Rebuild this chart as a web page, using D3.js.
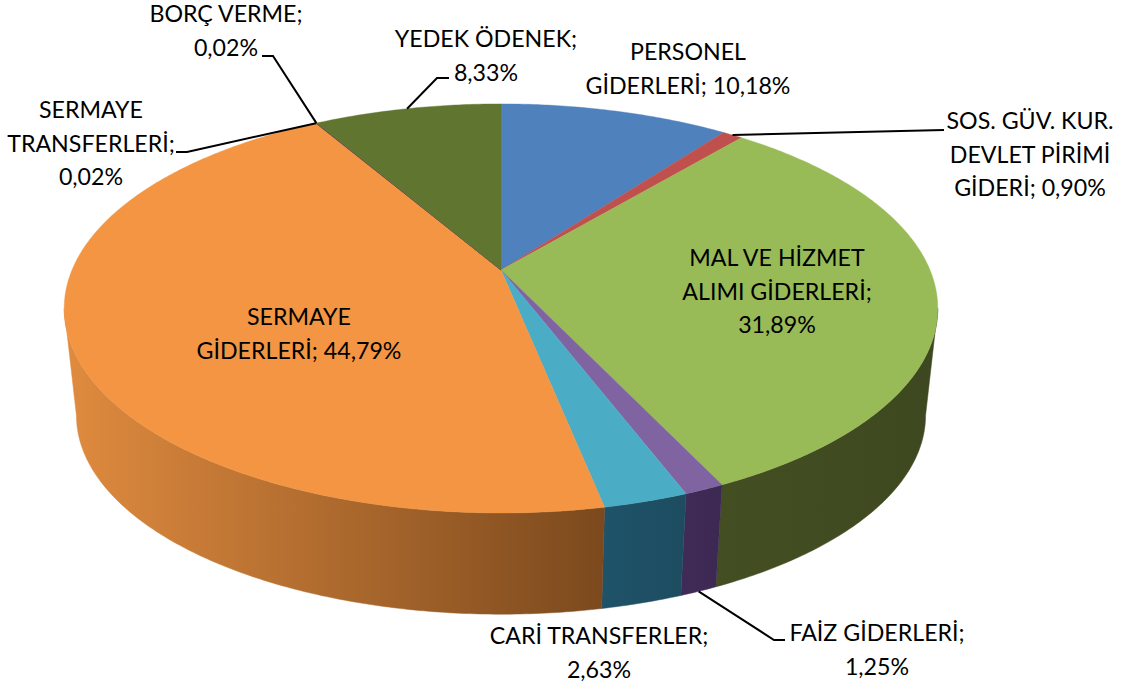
<!DOCTYPE html>
<html><head><meta charset="utf-8">
<style>html,body{margin:0;padding:0;background:#fff}svg{display:block}text{font-family:Lato,"Open Sans",sans-serif;fill:#000}</style>
<script src="https://cdn.jsdelivr.net/npm/d3@7"></script></head>
<body><svg id="c" width="1126" height="688"></svg>
<script>
const categories = ["PERSONEL GİDERLERİ","SOS. GÜV. KUR. DEVLET PİRİMİ GİDERİ","MAL VE HİZMET ALIMI GİDERLERİ","FAİZ GİDERLERİ","CARİ TRANSFERLER","SERMAYE GİDERLERİ","SERMAYE TRANSFERLERİ","BORÇ VERME","YEDEK ÖDENEK"];
const values = [10.18,0.90,31.89,1.25,2.63,44.79,0.02,0.02,8.33];
const labelLines = [
  ["PERSONEL","GİDERLERİ; 10,18%"],
  ["SOS. GÜV. KUR.","DEVLET PİRİMİ","GİDERİ; 0,90%"],
  ["MAL VE HİZMET","ALIMI GİDERLERİ;","31,89%"],
  ["FAİZ GİDERLERİ;","1,25%"],
  ["CARİ TRANSFERLER;","2,63%"],
  ["SERMAYE","GİDERLERİ; 44,79%"],
  ["SERMAYE","TRANSFERLERİ;","0,02%"],
  ["BORÇ VERME;","0,02%"],
  ["YEDEK ÖDENEK;","8,33%"]
];
const topColors = ["#4f81bd","#c0504d","#98ba57","#8064a2","#4bacc6","#f39543","#2c4d75","#772c2a","#5f7530"];
const wallStart = ["#2c4d75","#772c2a","#434f22","#402b58","#1f5369","#e08b3f","#2c4d75","#772c2a","#4a5a26"];
const wallEnd   = ["#2c4d75","#772c2a","#3e4820","#3c2952","#1d4c60","#7b491d","#2c4d75","#772c2a","#4a5a26"];
const labelPos = [[688,60],[1030,129],[777,266],[877,641],[599,644],[299,325],[91,118],[226,22],[486,47]];
const lineStep = 33.6, fontSize = 23.2;
// leader: label-side elbow points, then anchor on top or base disc
const leaders = [
  {i:1, pts:[[944,130]], base:false},
  {i:3, pts:[[785,640],[774,640]], base:true},
  {i:6, pts:[[176,152],[187,152]], base:false},
  {i:7, pts:[[262,56],[273,56]], base:false},
  {i:8, pts:[[449,78],[437,78]], base:false}
];

const k = 0.188;
const x = d3.scaleLinear().domain([-1,1]).range([501-429,501+429]);
const y = d3.scaleLinear().domain([-1,1]).range([270-197.3,270+197.3]);
const scaleB = 0.972, baseDy = 108;
const proj = (a,r=1)=>{const u=r*Math.sin(a),v=-r*Math.cos(a),d=1-k*v;return [x(u/d),y(v/d)];};
const projBase = (a)=>{const p=proj(a);return [x(0)+(p[0]-x(0))*scaleB, y(0)+baseDy+(p[1]-y(0))*scaleB];};

const arcs = d3.pie().sort(null).value(d=>d).startAngle(0).endAngle(2*Math.PI)(values);
const svg = d3.select("#c");
const defs = svg.append("defs");
const line = d3.line();
const samples=(a0,a1)=>{const n=Math.max(2,Math.ceil(Math.abs(a1-a0)/0.01));return d3.range(n+1).map(i=>a0+(a1-a0)*i/n);};

const wallMin = Math.PI-Math.acos(k), wallMax = Math.PI+Math.acos(k);
const wallG = svg.append("g");
arcs.forEach((d,i)=>{
  const a0=Math.max(d.startAngle,wallMin), a1=Math.min(d.endAngle,wallMax);
  if(a1<=a0) return;
  const pts=samples(a0,a1);
  const topPts=pts.map(a=>proj(a)), botPts=pts.map(projBase).reverse();
  const gid="w"+i;
  const xs=topPts.concat(botPts).map(p=>p[0]);
  const g=defs.append("linearGradient").attr("id",gid).attr("gradientUnits","userSpaceOnUse")
    .attr("x1",d3.min(xs)).attr("x2",d3.max(xs)).attr("y1",0).attr("y2",0);
  g.append("stop").attr("offset",0).attr("stop-color",wallStart[i]);
  g.append("stop").attr("offset",1).attr("stop-color",wallEnd[i]);
  wallG.append("path").attr("d",line(topPts.concat(botPts))+"Z").attr("fill",`url(#${gid})`)
    .attr("stroke",`url(#${gid})`).attr("stroke-width",0.5);
});
const topG = svg.append("g");
arcs.forEach((d,i)=>{
  const pts=[[x(0),y(0)]].concat(samples(d.startAngle,d.endAngle).map(a=>proj(a)));
  topG.append("path").attr("d",line(pts)+"Z").attr("fill",topColors[i]).attr("stroke",topColors[i]).attr("stroke-width",0.4);
});
const leadG = svg.append("g").attr("fill","none").attr("stroke","#000").attr("stroke-width",2);
leaders.forEach(l=>{
  const d=arcs[l.i], mid=(d.startAngle+d.endAngle)/2;
  const end=l.base?projBase(mid):proj(mid);
  leadG.append("path").attr("d",line(l.pts.concat([end])));
});
const textG = svg.append("g").attr("font-size",fontSize).attr("text-anchor","middle");
labelLines.forEach((ls,i)=>{
  const t=textG.append("text").attr("x",labelPos[i][0]).attr("y",labelPos[i][1]);
  ls.forEach((s,j)=>t.append("tspan").attr("x",labelPos[i][0]).attr("y",labelPos[i][1]+j*lineStep).text(s));
});
</script></body></html>
